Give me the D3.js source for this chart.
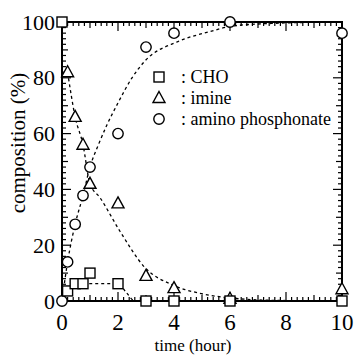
<!DOCTYPE html>
<html>
<head>
<meta charset="utf-8">
<script src="https://cdn.jsdelivr.net/npm/d3@7"></script>
<style>
  body { margin: 0; background: #fff; }
</style>
</head>
<body>
<svg id="chart" width="357" height="355"></svg>
<script>
// measured points
const timeCHO = [0, 0.2, 0.47, 0.75, 1, 2, 3, 4, 6, 10];
const valCHO = [100, 3.6, 6.2, 6.2, 10, 6.2, 0, 0, 0, 0];
const timeImine = [0.2, 0.47, 0.75, 1, 2, 3, 4, 6, 10];
const valImine = [82, 66, 56, 42, 35, 9, 4.6, 0.8, 4.2];
const timeAmino = [0, 0.2, 0.47, 0.75, 1, 2, 3, 4, 6, 10];
const valAmino = [0, 14, 27.5, 37.8, 48, 60, 91, 96, 100, 96];

// dashed guide curves
const curveCHOt = [0.03, 0.2, 0.47, 0.75, 2, 2.3, 2.6, 10];
const curveCHOv = [0, 3.6, 6.2, 6.2, 6.2, 3, 0, 0];
const curveImineT = [0.2, 0.47, 0.75, 1, 1.36, 2.07, 2.96, 3.96, 4.9, 5.9, 7, 8.5, 10];
const curveImineV = [82, 66, 56, 42, 37, 25, 12, 5.7, 2.8, 1.2, 0.4, 0.1, 0];
const curveAminoT = [0, 0.2, 0.47, 0.75, 1, 1.3, 1.6, 2.0, 2.5, 2.96, 4.14, 5.3, 6, 7.5, 10];
const curveAminoV = [0, 14, 27.5, 37.8, 48, 56, 63, 71, 80, 86, 93, 96.6, 98.4, 99.5, 100];

const legendLabels = [': CHO', ': imine', ': amino phosphonate'];
const xTicks = [0, 2, 4, 6, 8, 10];
const yTicks = [0, 20, 40, 60, 80, 100];

const serif = '"Liberation Serif", "Times New Roman", Tinos, "DejaVu Serif", serif';
const svg = d3.select('#chart').attr('font-family', serif);
const mLeft = 62, mRight = 342, mTop = 22, mBottom = 301;

const x = d3.scaleLinear().domain([0, 10]).range([mLeft, mRight]);
const y = d3.scaleLinear().domain([0, 100]).range([mBottom, mTop]);

const zip = (ts, vs) => ts.map((t, i) => ({ t, v: vs[i] }));

// dashed curves
const line = d3.line().x((d) => x(d.t)).y((d) => y(d.v)).curve(d3.curveMonotoneX);
[zip(curveCHOt, curveCHOv), zip(curveImineT, curveImineV), zip(curveAminoT, curveAminoV)]
  .forEach((pts) => {
    svg.append('path')
      .attr('d', line(pts))
      .attr('fill', 'none')
      .attr('stroke', '#000')
      .attr('stroke-width', 1.3)
      .attr('stroke-dasharray', '3,3');
  });

// frame and inward ticks
svg.append('rect')
  .attr('x', mLeft).attr('y', mTop)
  .attr('width', mRight - mLeft).attr('height', mBottom - mTop)
  .attr('fill', 'none').attr('stroke', '#000').attr('stroke-width', 2);

const ticks = svg.append('g').attr('stroke', '#000').attr('stroke-width', 1.2);
d3.range(0, 51).forEach((i) => {
  const t = i / 5;
  const len = i % 10 === 0 ? 9 : (i % 5 === 0 ? 6 : 4);
  ticks.append('line').attr('x1', x(t)).attr('x2', x(t)).attr('y1', mBottom).attr('y2', mBottom - len);
  ticks.append('line').attr('x1', x(t)).attr('x2', x(t)).attr('y1', mTop).attr('y2', mTop + len);
});
d3.range(0, 51).forEach((i) => {
  const v = i * 2;
  const len = v % 20 === 0 ? 9 : (v % 10 === 0 ? 6 : 4);
  ticks.append('line').attr('y1', y(v)).attr('y2', y(v)).attr('x1', mLeft).attr('x2', mLeft + len);
  ticks.append('line').attr('y1', y(v)).attr('y2', y(v)).attr('x1', mRight).attr('x2', mRight - len);
});

// tick labels
svg.append('g').selectAll('text').data(xTicks).enter().append('text')
  .attr('x', (d) => x(d)).attr('y', 330)
  .attr('text-anchor', 'middle').attr('font-size', 23)
  .text((d) => d);
svg.append('g').selectAll('text').data(yTicks).enter().append('text')
  .attr('x', mLeft - 7).attr('y', (d) => y(d) + 7.5)
  .attr('text-anchor', 'end').attr('font-size', 22)
  .text((d) => d);

// axis titles
svg.append('text')
  .attr('x', 193).attr('y', 351)
  .attr('text-anchor', 'middle').attr('font-size', 17)
  .text('time (hour)');
svg.append('text')
  .attr('transform', 'translate(25,143) rotate(-90)')
  .attr('text-anchor', 'middle').attr('font-size', 21)
  .text('composition (%)');

// markers
const symStyle = (sel) => sel.attr('fill', '#fff').attr('stroke', '#000').attr('stroke-width', 1.4);
const square = (g, cx, cy) => g.append('rect').attr('x', cx - 5).attr('y', cy - 5).attr('width', 10).attr('height', 10).call(symStyle);
const triangle = (g, cx, cy) => g.append('path')
  .attr('d', `M${cx},${cy - 6.5} L${cx + 6},${cy + 4.5} L${cx - 6},${cy + 4.5} Z`).call(symStyle);
const circle = (g, cx, cy) => g.append('circle').attr('cx', cx).attr('cy', cy).attr('r', 5.2).call(symStyle);

const marks = svg.append('g');
zip(timeImine, valImine).forEach((d) => triangle(marks, x(d.t), y(d.v)));
zip(timeAmino, valAmino).forEach((d) => circle(marks, x(d.t), y(d.v)));
zip(timeCHO, valCHO).forEach((d) => square(marks, x(d.t), y(d.v)));

// legend
const legend = svg.append('g');
const drawers = [square, triangle, circle];
legendLabels.forEach((lab, i) => {
  const ly = 77 + i * 21;
  drawers[i](legend, 159, ly);
  legend.append('text').attr('x', 181).attr('y', ly + 6)
    .attr('font-size', 18).text(lab);
});
</script>
</body>
</html>
